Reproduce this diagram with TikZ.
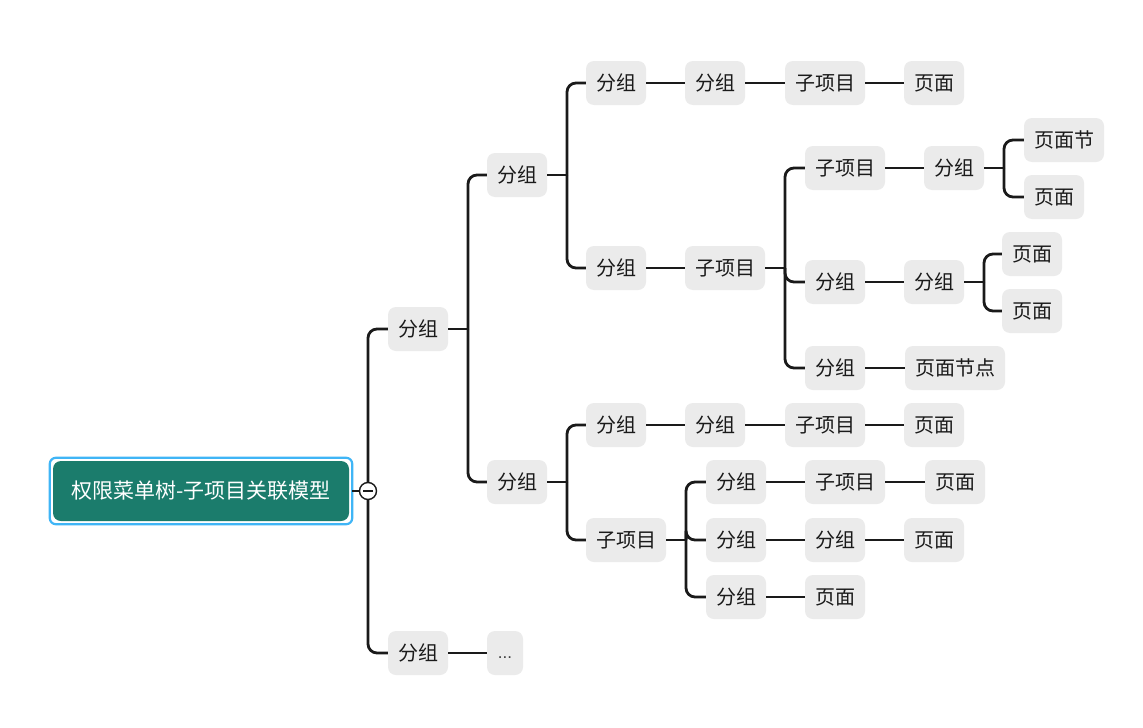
\documentclass[tikz,border=0pt]{standalone}
\usepackage{fontspec}
\newfontfamily\cjk{Noto Sans CJK SC}
\newfontfamily\lat{Liberation Sans}
\definecolor{boxgray}{HTML}{EBEBEB}
\definecolor{txt}{HTML}{1A1A1A}
\definecolor{rootgreen}{HTML}{1B7C6C}
\definecolor{selblue}{HTML}{3FB5F6}
\definecolor{linec}{HTML}{1A1A1A}
\tikzset{
  tbox/.style={fill=boxgray, rounded corners=8pt, minimum height=44pt, inner xsep=10pt, inner ysep=0pt,
    text=txt, font=\cjk\fontsize{20}{24}\selectfont},
  rootbox/.style={fill=rootgreen, rounded corners=8pt, minimum height=60pt, minimum width=296pt,
    text=white, font=\cjk\fontsize{21}{25}\selectfont},
  edge/.style={draw=linec, line width=2.8pt},
  redge/.style={draw=linec, line width=2.8pt, rounded corners=9pt},
}
\newcommand\fork[3]{%
  \draw[edge] (#1.east) -- (#3,0 |- #1.east);
  \draw[redge] (#3,0 |- #1.east) |- (#2.west);}
\newcommand\link[2]{\draw[edge] (#1.east) -- (#2.west);}
\begin{document}
\begin{tikzpicture}[x=1pt,y=-1pt]
\useasboundingbox[fill=white] (0,0) rectangle (1143,728);
% nodes
\node[rootbox] (root) at (201,491) {权限菜单树-子项目关联模型};
\node[tbox] (L1a) at (418,329) {分组};
\node[tbox] (L1b) at (418,653) {分组};
\node[tbox, minimum width=36pt, inner xsep=4pt, text height=15pt, text depth=4pt,
  font=\lat\fontsize{17}{20}\selectfont, text=black!75] (dots) at (505,653) {...};
\node[tbox] (A) at (517,175) {分组};
\node[tbox] (B) at (517,482) {分组};
\node[tbox] (A1) at (616,83) {分组};
\node[tbox] (A11) at (715,83) {分组};
\node[tbox] (A111) at (825,83) {子项目};
\node[tbox] (A1111) at (934,83) {页面};
\node[tbox] (A2) at (616,268) {分组};
\node[tbox] (A21) at (725,268) {子项目};
\node[tbox] (A211) at (845,168) {子项目};
\node[tbox] (A2111) at (954,168) {分组};
\node[tbox] (P1) at (1064,140) {页面节};
\node[tbox] (P2) at (1054,197) {页面};
\node[tbox] (A212) at (835,282) {分组};
\node[tbox] (A2121) at (934,282) {分组};
\node[tbox] (P3) at (1032,254) {页面};
\node[tbox] (P4) at (1032,311) {页面};
\node[tbox] (A213) at (835,368) {分组};
\node[tbox] (P5) at (955,368) {页面节点};
\node[tbox] (B1) at (616,425) {分组};
\node[tbox] (B11) at (715,425) {分组};
\node[tbox] (B111) at (825,425) {子项目};
\node[tbox] (B1111) at (934,425) {页面};
\node[tbox] (B2) at (626,540) {子项目};
\node[tbox] (B21) at (736,482) {分组};
\node[tbox] (B211) at (845,482) {子项目};
\node[tbox] (B2111) at (955,482) {页面};
\node[tbox] (B22) at (736,540) {分组};
\node[tbox] (B221) at (835,540) {分组};
\node[tbox] (B2211) at (934,540) {页面};
\node[tbox] (B23) at (736,597) {分组};
\node[tbox] (B231) at (835,597) {页面};
% selection border
\draw[selblue, line width=2.2pt, rounded corners=6pt]
  ([shift={(-3pt,-3pt)}]root.south west) rectangle ([shift={(3pt,3pt)}]root.north east);
% trunk
\coordinate (hub) at (368,491);
\draw[edge] ([xshift=3pt]root.east) -- (hub);
\draw[redge] (hub) |- (L1a.west);
\draw[redge] (hub) |- (L1b.west);
\node[circle, draw=linec, line width=1.4pt, fill=white, minimum size=17pt, inner sep=0pt] (circ) at (hub) {};
\draw[linec, line width=1.4pt] ([xshift=-5pt]circ.center) -- ([xshift=5pt]circ.center);
% connectors
\link{L1b}{dots}
\fork{L1a}{A}{468}
\fork{L1a}{B}{468}
\fork{A}{A1}{567}
\fork{A}{A2}{567}
\link{A1}{A11}
\link{A11}{A111}
\link{A111}{A1111}
\link{A2}{A21}
\fork{A21}{A211}{785}
\fork{A21}{A212}{785}
\fork{A21}{A213}{785}
\link{A211}{A2111}
\fork{A2111}{P1}{1004}
\fork{A2111}{P2}{1004}
\link{A212}{A2121}
\fork{A2121}{P3}{984}
\fork{A2121}{P4}{984}
\link{A213}{P5}
\fork{B}{B1}{567}
\fork{B}{B2}{567}
\link{B1}{B11}
\link{B11}{B111}
\link{B111}{B1111}
\fork{B2}{B21}{686}
\fork{B2}{B22}{686}
\fork{B2}{B23}{686}
\link{B21}{B211}
\link{B211}{B2111}
\link{B22}{B221}
\link{B221}{B2211}
\link{B23}{B231}
\end{tikzpicture}
\end{document}
